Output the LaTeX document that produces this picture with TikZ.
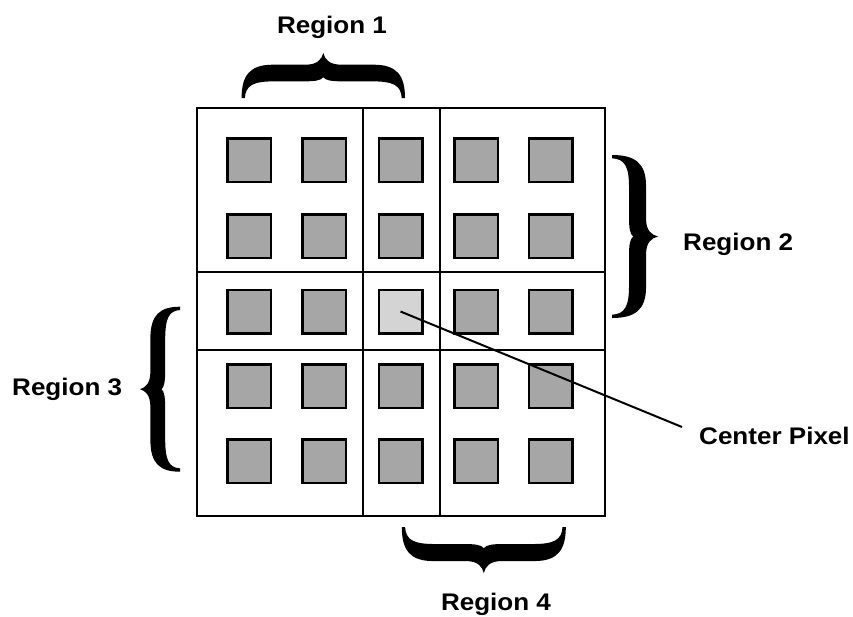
\documentclass[tikz,border=0pt]{standalone}
\usepackage{fontspec}
\setmainfont{Liberation Sans}
\usepackage{graphicx}
\definecolor{pixgrey}{HTML}{A6A6A6}
\definecolor{pixlight}{HTML}{D4D4D4}
\newcommand{\bracepath}[2]{%
  \fill (-#1,0) .. controls ({-#1},{0.5*#2}) and ({-0.9*#1},{0.74*#2}) .. ({-0.62*#1},{0.74*#2})
     -- ({-0.22*#1},{0.74*#2})
     .. controls ({-0.07*#1},{0.74*#2}) and ({-0.02*#1},{0.86*#2}) .. (0,#2)
     .. controls ({0.02*#1},{0.86*#2}) and ({0.07*#1},{0.74*#2}) .. ({0.22*#1},{0.74*#2})
     -- ({0.62*#1},{0.74*#2})
     .. controls ({0.9*#1},{0.74*#2}) and ({#1},{0.5*#2}) .. (#1,0)
     -- ({0.96*#1},0)
     .. controls ({0.95*#1},{0.28*#2}) and ({0.86*#1},{0.37*#2}) .. ({0.6*#1},{0.37*#2})
     -- ({0.24*#1},{0.37*#2})
     .. controls ({0.1*#1},{0.37*#2}) and ({0.03*#1},{0.39*#2}) .. (0,{0.46*#2})
     .. controls ({-0.03*#1},{0.39*#2}) and ({-0.1*#1},{0.37*#2}) .. ({-0.24*#1},{0.37*#2})
     -- ({-0.6*#1},{0.37*#2})
     .. controls ({-0.86*#1},{0.37*#2}) and ({-0.95*#1},{0.28*#2}) .. ({-0.96*#1},0)
     -- cycle;}
\begin{document}
\begin{tikzpicture}[x=1pt,y=-1pt,
  pix/.style={draw=black, line width=2.5pt, fill=pixgrey, minimum size=43.5pt, inner sep=0pt, outer sep=0pt},
  cpix/.style={pix, fill=pixlight},
  gridline/.style={line width=2pt},
  lbl/.style={font=\fontsize{24}{28}\selectfont\bfseries, inner sep=0pt}]
\useasboundingbox (0,0) rectangle (853,616);
% grid lines
\draw[gridline] (197,108) rectangle (605,516);
\draw[gridline] (362.5,108) -- (362.5,516);
\draw[gridline] (439.5,108) -- (439.5,516);
\draw[gridline] (197,272) -- (605,272);
\draw[gridline] (197,349.5) -- (605,349.5);
% pixels
\foreach \c/\x in {1/249,2/324,3/400.5,4/476,5/550.5}{
  \foreach \r/\y in {1/160,2/236,3/311.5,4/386,5/461}{
    \node[pix] (s\r\c) at (\x,\y) {};
  }
}
\node[cpix] (s33) at (400.5,311.5) {};
% braces
\begin{scope}[cm={1,0,0,-1,(323.3,98)}]\bracepath{81.7}{45}\end{scope}
\begin{scope}[cm={0,-1,-1,0,(612,236.5)}]\bracepath{81.5}{46}\end{scope}
\begin{scope}[cm={0,-1,1,0,(180,389.2)}]\bracepath{82.5}{40}\end{scope}
\begin{scope}[cm={1,0,0,1,(483.8,527)}]\bracepath{82}{46}\end{scope}
% labels
\node[lbl, anchor=base] (r1) at (332,33) {\scalebox{1.085}[1]{Region 1}};
\node[lbl, anchor=base west] (r2) at (683,250) {\scalebox{1.085}[1]{Region 2}};
\node[lbl, anchor=base west] (r3) at (12,395) {\scalebox{1.085}[1]{Region 3}};
\node[lbl, anchor=base] (r4) at (496,610) {\scalebox{1.085}[1]{Region 4}};
\node[lbl, anchor=base west] (cp) at (699,444) {\scalebox{1.085}[1]{Center Pixel}};
\coordinate (cpend) at (682,427);
\draw[line width=2pt] (s33.center) -- (cpend);
\end{tikzpicture}
\end{document}
